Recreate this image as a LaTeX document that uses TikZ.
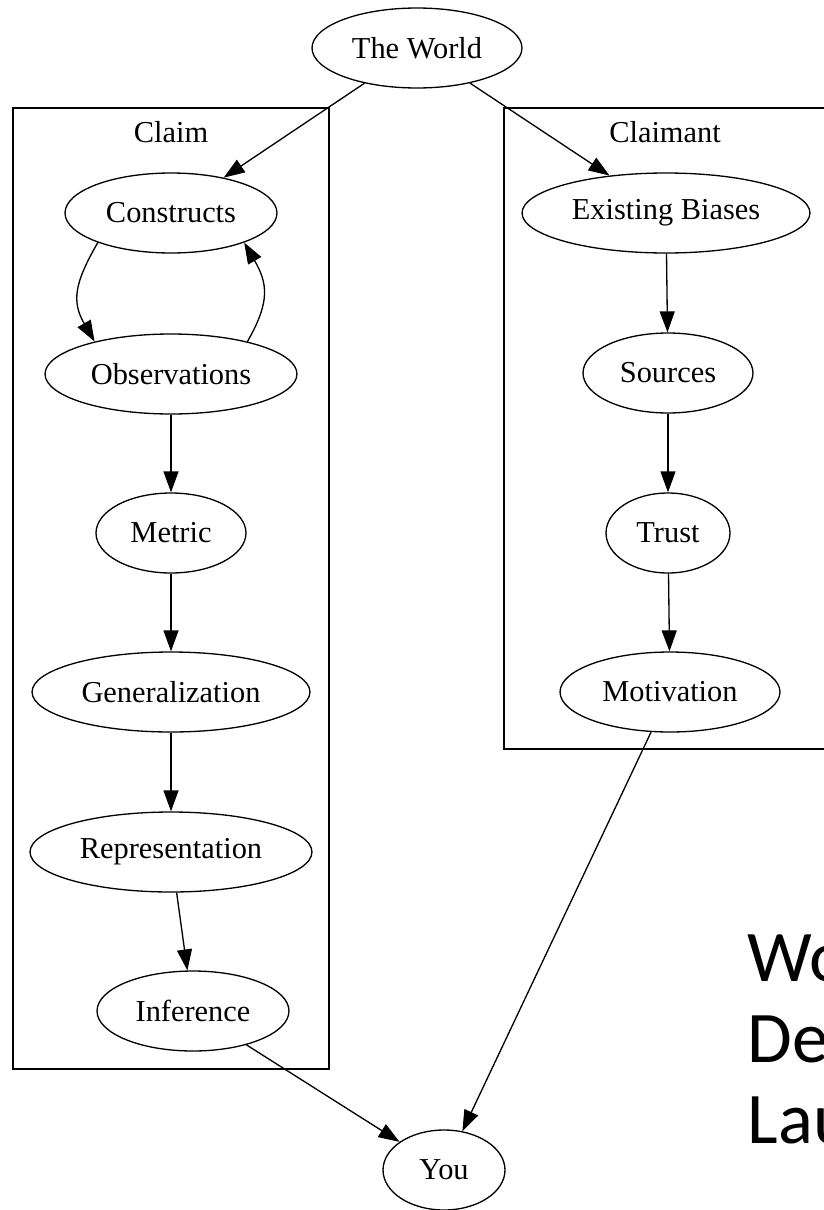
\documentclass[tikz,border=0pt]{standalone}
\usepackage{fontspec}
\setmainfont{Liberation Serif}
\newfontfamily\slidefont{Carlito}
\usetikzlibrary{shapes.geometric,arrows.meta}

\begin{document}
\begin{tikzpicture}[x=0.02cm, y=-0.02cm, line width=0.75pt,
    >={Triangle[length=0.42cm,width=0.3cm]},
    every node/.style={font=\fontsize{17.3}{20}\selectfont},
    gnode/.style={draw, ellipse, inner sep=0pt, minimum height=1.6cm},
    cluster/.style={draw, rectangle, inner sep=0pt}]
            \path[use as bounding box, fill=white] (0,0) rectangle (823,1210);

            \node[gnode, minimum width=4.2cm] (World) at (417,48) {The World};

            % left cluster
            \node[cluster, minimum width=6.32cm, minimum height=19.22cm] (ClaimBox) at (171,588.5) {};
            \node (ClaimLabel) at (171,132) {Claim};
            \node[gnode, minimum width=4.24cm] (Constructs) at (171,213) {Constructs};
            \node[gnode, minimum width=5.04cm] (Observations) at (171,374) {Observations};
            \node[gnode, minimum width=3.0cm] (Metric) at (171,533) {Metric};
            \node[gnode, minimum width=5.56cm] (Generalization) at (171,692) {Generalization};
            \node[gnode, minimum width=5.64cm] (Representation) at (171,852) {Representation};
            \node[gnode, minimum width=3.84cm] (Inference) at (193,1011) {Inference};

            % right cluster
            \node[cluster, minimum width=6.72cm, minimum height=12.82cm] (ClaimantBox) at (672,428.5) {};
            \node (ClaimantLabel) at (665,132) {Claimant};
            \node[gnode, minimum width=5.76cm] (Biases) at (666,213) {Existing Biases};
            \node[gnode, minimum width=3.4cm] (Sources) at (668,373) {Sources};
            \node[gnode, minimum width=2.48cm] (Trust) at (668,533) {Trust};
            \node[gnode, minimum width=4.4cm] (Motivation) at (670,692) {Motivation};

            \node[gnode, minimum width=2.44cm] (You) at (444,1170) {You};

            \path [->] (World) edge (Constructs);
            \path [->] (World) edge (Biases);
            \path [->] (Constructs.202) edge[out=240, in=120, looseness=1.2] (Observations.157);
            \path [->] (Observations.23) edge[out=60, in=-60, looseness=1.2] (Constructs.338);
            \path [->] (Observations) edge (Metric);
            \path [->] (Metric) edge (Generalization);
            \path [->] (Generalization) edge (Representation);
            \path [->] (Representation) edge (Inference);
            \path [->] (Inference) edge (You);
            \path [->] (Biases) edge (Sources);
            \path [->] (Sources) edge (Trust);
            \path [->] (Trust) edge (Motivation);
            \path [->] (Motivation) edge (You);

            % slide text cut at the edge
            \node[anchor=base west, inner sep=0pt, font=\slidefont\fontsize{41.4}{46}\selectfont] (SlideA) at (747,981) {Wo};
            \node[anchor=base west, inner sep=0pt, font=\slidefont\fontsize{41.4}{46}\selectfont] (SlideB) at (747,1062) {De};
            \node[anchor=base west, inner sep=0pt, font=\slidefont\fontsize{41.4}{46}\selectfont] (SlideC) at (747,1143) {Lau};

        \end{tikzpicture}
\end{document}
